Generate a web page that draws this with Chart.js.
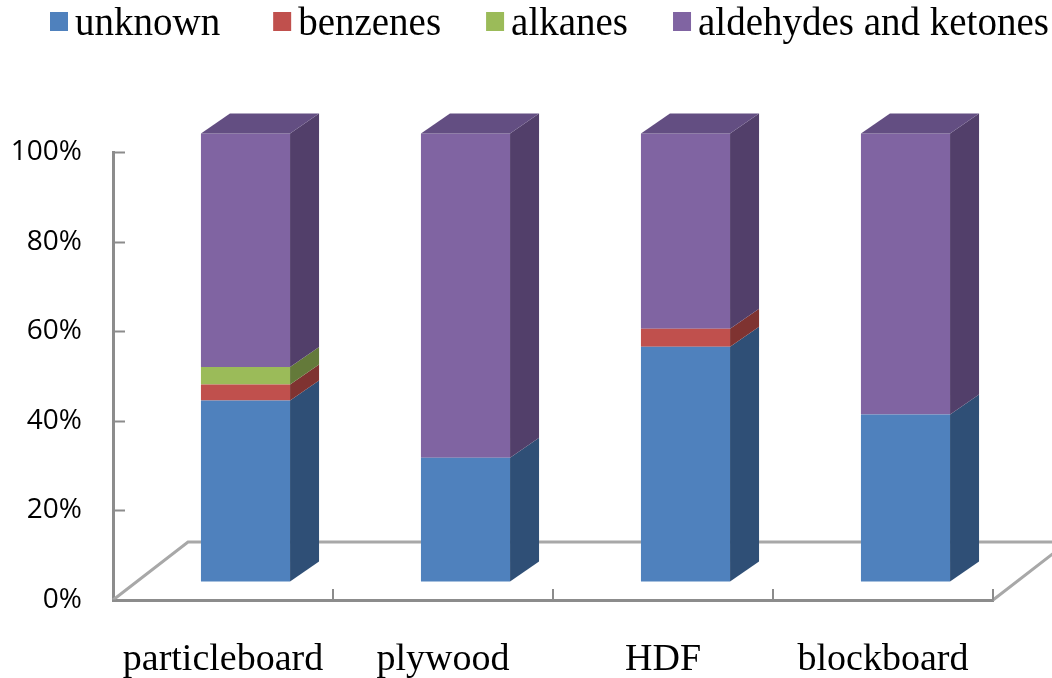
<!DOCTYPE html>
<html>
<head>
<meta charset="utf-8">
<script src="https://cdn.jsdelivr.net/npm/chart.js@4.4.0/dist/chart.umd.min.js"></script>
<style>
  html, body { margin: 0; padding: 0; background: #fff; }
  #wrap { width: 1052px; height: 678px; position: relative; }
</style>
</head>
<body>
<div id="wrap"><canvas id="chart"></canvas></div>
<script>
const categories = ['particleboard', 'plywood', 'HDF', 'blockboard']
const unknownShare = [40.4, 27.6, 52.4, 37.3]
const benzeneShare = [3.6, 0, 4.0, 0]
const alkaneShare = [3.9, 0, 0, 0]
const carbonylShare = [52.1, 72.4, 43.6, 62.7]
const seriesNames = ['unknown', 'benzenes', 'alkanes', 'aldehydes and ketones']

const colors = ['#4f81bd', '#c0504d', '#9bbb59', '#8064a2']
const sideColors = ['#2f4f76', '#7f3331', '#647a3a', '#523f6a']
const topColors = ['#3d6290', '#983f3d', '#7c9446', '#634e82']

const serif = '"Liberation Serif", "Times New Roman", serif'
const depth = { x: 29, y: -20 }      // bar depth
const shift = { x: 22.5, y: -18.5 }  // bars sit half way into the floor
const floorDepth = { x: 75, y: -58 }
const axisGrey = '#8c8c8c'

// 3d floor, inward tick marks and bar side/top faces
const threeD = {
    id: 'threeD',
    beforeDatasetsDraw(chart) {
        const { ctx, chartArea: a } = chart
        ctx.save()
        ctx.strokeStyle = '#a8a8a8'
        ctx.lineWidth = 3
        ctx.beginPath()
        ctx.moveTo(a.left, a.bottom)
        ctx.lineTo(a.left + floorDepth.x, a.bottom + floorDepth.y)
        ctx.lineTo(chart.width, a.bottom + floorDepth.y)
        ctx.moveTo(a.right, a.bottom)
        ctx.lineTo(a.right + floorDepth.x, a.bottom + floorDepth.y)
        ctx.stroke()

        ctx.strokeStyle = axisGrey
        ctx.lineWidth = 2
        ctx.beginPath()
        const ys = chart.scales.y
        ys.ticks.forEach(t => {
            const py = Math.round(ys.getPixelForValue(t.value)) + 0.5
            ctx.moveTo(a.left, py)
            ctx.lineTo(a.left + 12, py)
        })
        const xs = chart.scales.x
        for (let i = 0; i < categories.length; i++) {
            const px = i < categories.length - 1
                ? (xs.getPixelForValue(i) + xs.getPixelForValue(i + 1)) / 2
                : a.right
            ctx.moveTo(Math.round(px), a.bottom)
            ctx.lineTo(Math.round(px), a.bottom - 11)
        }
        ctx.stroke()
        ctx.restore()

        ctx.save()
        ctx.translate(shift.x, shift.y)
    },
    afterDatasetsDraw(chart) {
        const ctx = chart.ctx
        const last = chart.data.datasets.length - 1
        chart.data.datasets.forEach((ds, di) => {
            chart.getDatasetMeta(di).data.forEach(bar => {
                const { x, y, base, width } = bar.getProps(['x', 'y', 'base', 'width'], true)
                if (base - y < 0.5) return
                const l = x - width / 2, r = x + width / 2
                ctx.fillStyle = sideColors[di]
                ctx.beginPath()
                ctx.moveTo(r, y)
                ctx.lineTo(r + depth.x, y + depth.y)
                ctx.lineTo(r + depth.x, base + depth.y)
                ctx.lineTo(r, base)
                ctx.closePath()
                ctx.fill()
                if (di === last) {
                    ctx.fillStyle = topColors[di]
                    ctx.beginPath()
                    ctx.moveTo(l, y)
                    ctx.lineTo(l + depth.x, y + depth.y)
                    ctx.lineTo(r + depth.x, y + depth.y)
                    ctx.lineTo(r, y)
                    ctx.closePath()
                    ctx.fill()
                }
            })
        })
        ctx.restore()
    }
}

// legend laid out like the original (small boxes, tight gaps)
const topLegend = {
    id: 'topLegend',
    afterDraw(chart) {
        const ctx = chart.ctx
        ctx.save()
        ctx.font = '39px ' + serif
        ctx.textBaseline = 'alphabetic'
        let x = 50
        chart.data.datasets.forEach((ds, i) => {
            ctx.fillStyle = ds.backgroundColor
            ctx.fillRect(x, 12, 18, 19)
            ctx.fillStyle = '#000'
            ctx.fillText(ds.label, x + 25, 35)
            x += 25 + ctx.measureText(ds.label).width + (i === 0 ? 53 : 45)
        })
        ctx.restore()
    }
}

const seriesValues = [unknownShare, benzeneShare, alkaneShare, carbonylShare]

const data = {
    labels: categories,
    datasets: seriesNames.map((name, i) => ({
        label: name,
        data: seriesValues[i],
        backgroundColor: colors[i],
        borderWidth: 0,
        clip: false,
        categoryPercentage: 0.5,
        barPercentage: 0.81
    }))
}

const config = {
    type: 'bar',
    data,
    options: {
        responsive: true,
        maintainAspectRatio: false,
        animation: false,
        layout: {
            padding: { top: 152, right: 59, left: 0, bottom: 0 }
        },
        plugins: {
            legend: { display: false },
            tooltip: { enabled: false }
        },
        scales: {
            x: {
                stacked: true,
                grid: { display: false },
                border: { display: true, color: axisGrey, width: 3 },
                ticks: {
                    color: '#000',
                    padding: 29,
                    font: { family: serif, size: 38 }
                },
                afterFit(scale) { scale.height = 78 }
            },
            y: {
                stacked: true,
                min: 0,
                max: 100,
                grid: { display: false },
                border: { display: true, color: axisGrey, width: 3 },
                ticks: {
                    stepSize: 20,
                    color: '#000',
                    padding: 23,
                    font: { family: '"Open Sans", sans-serif', size: 28 },
                    callback: v => v + '%'
                },
                afterFit(scale) { scale.width = 113 }
            }
        }
    },
    plugins: [threeD, topLegend]
}

const chart = new Chart(document.getElementById('chart'), config)
</script>
</body>
</html>
